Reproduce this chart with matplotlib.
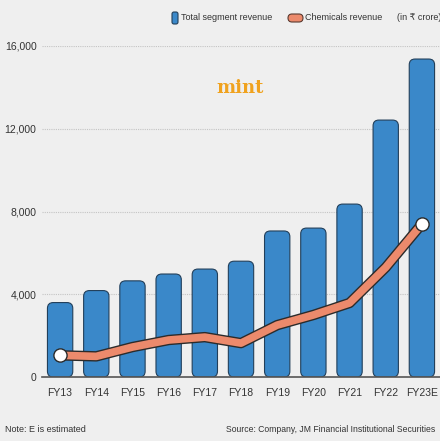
import numpy as np
import matplotlib
matplotlib.use("Agg")
from matplotlib import pyplot as plt
from matplotlib.patches import FancyBboxPatch
import matplotlib.patheffects as pe

# revenue data, in Rs crore
years = ["FY13", "FY14", "FY15", "FY16", "FY17", "FY18", "FY19", "FY20", "FY21", "FY22", "FY23E"]
total_rev = [3600, 4180, 4650, 4980, 5220, 5600, 7060, 7200, 8360, 12420, 15370]
chem_rev = [1050, 1000, 1450, 1790, 1930, 1640, 2510, 3000, 3580, 5300, 7400]
yticks = [0, 4000, 8000, 12000, 16000]

bg = "#efefef"
blue = "#3a88c9"
salmon = "#ec8a6c"
dark = "#2b2b2b"
txt = "#333333"
plt.rcParams['font.family'] = ['Liberation Sans', 'DejaVu Sans']

fig = plt.figure(figsize=(4.40, 4.41), dpi=100, facecolor=bg)
ax = fig.add_axes([0.0955, 0.145, 0.9045, 0.7507])
ax.set_facecolor(bg)
ax.set_xlim(-0.5, 10.5)
ax.set_ylim(0, 16000)

# units per pixel, so the rounded corners stay round
fig.canvas.draw()
bb = ax.get_window_extent()
ux = 11.0 / bb.width
uy = 16000.0 / bb.height
aspect = uy / ux

x = np.arange(len(years))
bw = 0.7
for xi, v in zip(x, total_rev):
    box = FancyBboxPatch((xi - bw / 2, 0), bw, v,
                         boxstyle="round,pad=0,rounding_size=0.16",
                         mutation_aspect=aspect,
                         facecolor=blue, edgecolor="#223f5a", linewidth=0.8, zorder=2)
    ax.add_patch(box)

ax.plot(x, chem_rev, color=salmon, lw=5.5, solid_joinstyle="round", solid_capstyle="round",
        zorder=3, path_effects=[pe.Stroke(linewidth=7.5, foreground=dark), pe.Normal()])
ax.plot([x[0], x[-1]], [chem_rev[0], chem_rev[-1]], "o", ms=9.5, mfc="white", mec=dark,
        mew=1, zorder=4)

ax.set_yticks(yticks)
ax.set_yticklabels([f"{t:,}" for t in yticks], fontsize=7.5, color=txt)
ax.set_xticks(x)
ax.set_xticklabels(years, fontsize=7.5, color=txt)
ax.tick_params(axis="y", length=0, pad=4)
ax.tick_params(axis="x", length=0, pad=8)
ax.grid(axis="y", color="#c4c4c4", linestyle=(0, (1, 1)), linewidth=0.8, zorder=0)
ax.set_axisbelow(True)
for s in ["top", "right", "left"]:
    ax.spines[s].set_visible(False)
ax.spines["bottom"].set_color("#555555")
ax.spines["bottom"].set_linewidth(1.2)
ax.spines["bottom"].set_zorder(5)

# legend drawn by hand
lx = fig.add_axes([0, 0, 1, 1], facecolor="none")
lx.set_xlim(0, 440)
lx.set_ylim(441, 0)
lx.axis("off")
lx.add_patch(FancyBboxPatch((172, 12), 6, 12, boxstyle="round,pad=0,rounding_size=2",
                            facecolor=blue, edgecolor="#223f5a", lw=0.8))
lx.text(181, 18, "Total segment revenue", fontsize=6.5, va="center", color=txt)
lx.add_patch(FancyBboxPatch((288, 14), 15, 8, boxstyle="round,pad=0,rounding_size=4",
                            facecolor=salmon, edgecolor="#5a3a30", lw=0.8))
lx.text(305, 18, "Chemicals revenue", fontsize=6.5, va="center", color=txt)
lx.text(397, 18, "(in \u20b9 crore)", fontsize=6.5, va="center", color=txt)

lx.text(240, 88, "mint", fontsize=13, fontweight="bold", family="DejaVu Serif",
        color="#f0a21e", ha="center", va="center")

lx.text(5, 430, "Note: E is estimated", fontsize=6.5, va="center", color=txt)
lx.text(226, 430, "Source: Company, JM Financial Institutional Securities", fontsize=6.2,
        va="center", color=txt)

fig.savefig("out.png", dpi=100, facecolor=bg)
